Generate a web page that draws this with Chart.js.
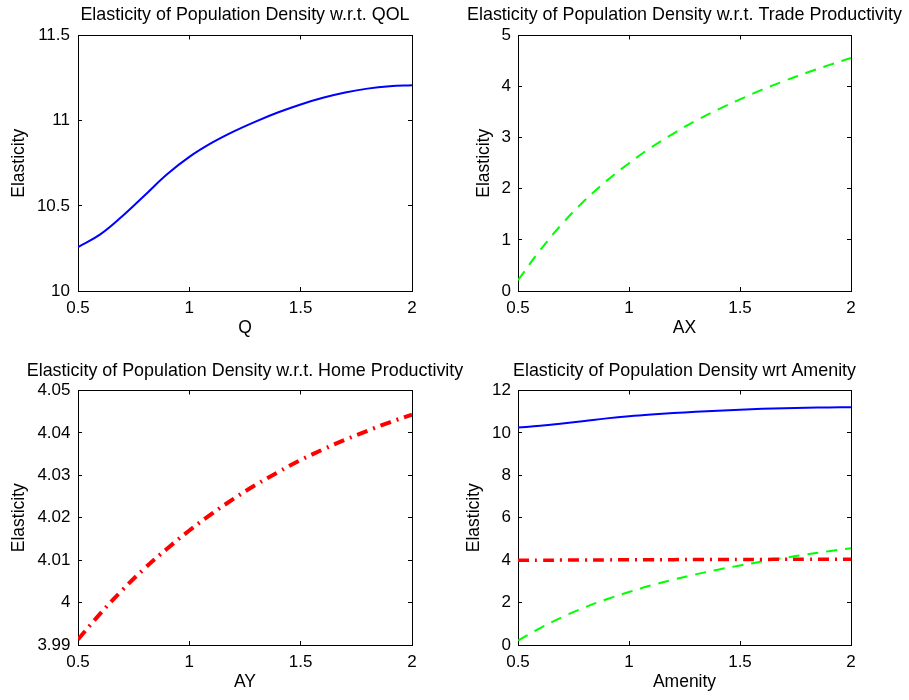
<!DOCTYPE html>
<html>
<head>
<meta charset="utf-8">
<title>Elasticity of Population Density</title>
<script src="https://cdn.jsdelivr.net/npm/chart.js@4.4.0/dist/chart.umd.min.js"></script>
<style>
    body { margin: 0; background: #fff; }
    canvas { position: absolute; }
</style>
</head>
<body>
<canvas id="qol-chart" width="490" height="345" style="left:0;top:0"></canvas>
<canvas id="trade-chart" width="449" height="345" style="left:460px;top:0"></canvas>
<canvas id="home-chart" width="490" height="350" style="left:0;top:350px"></canvas>
<canvas id="amenity-chart" width="449" height="350" style="left:460px;top:350px"></canvas>
<script>
// Values
var xValues = [0.5, 0.6, 0.7, 0.8, 0.9, 1.0, 1.1, 1.2, 1.3, 1.4, 1.5, 1.6, 1.7, 1.8, 1.9, 2.0];
var qolElasticity = [10.258, 10.332, 10.44, 10.562, 10.685, 10.787, 10.869, 10.937, 10.996, 11.049, 11.095, 11.134, 11.165, 11.188, 11.202, 11.208];
var tradeElasticity = [0.21, 0.80, 1.32, 1.77, 2.16, 2.50, 2.81, 3.08, 3.33, 3.55, 3.75, 3.94, 4.11, 4.27, 4.42, 4.56];
var homeElasticity = [3.9913, 3.9974, 4.0030, 4.0081, 4.0127, 4.0170, 4.0209, 4.0245, 4.0278, 4.0308, 4.0336, 4.0361, 4.0384, 4.0405, 4.0425, 4.0443];

// Tick labels
var xTicks = [0.5, 1, 1.5, 2];
var qolTicks = [10, 10.5, 11, 11.5];
var tradeTicks = [0, 1, 2, 3, 4, 5];
var homeTicks = [3.99, 4, 4.01, 4.02, 4.03, 4.04, 4.05];
var amenityTicks = [0, 2, 4, 6, 8, 10, 12];

Chart.defaults.color = '#000';
Chart.defaults.font.family = '"Liberation Sans", Arial, Helvetica, sans-serif';

var tickFont = { size: 17 };
var labelFont = { size: 17.5 };

function toPoints(ys) {
    return xValues.map(function(x, i) { return { x: x, y: ys[i] }; });
}

function setTicks(values) {
    return function(scale) {
        scale.ticks = values.map(function(v) { return { value: v }; });
    };
}

// matlab style: ticks pointing into the box, no grid
var insideGrid = { drawOnChartArea: false, drawTicks: true, tickLength: -4, tickColor: '#000', tickWidth: 1 };
var frame = { display: true, color: '#000', width: 1 };

function qolLine() {
    return { data: toPoints(qolElasticity), borderColor: '#0000ff', borderWidth: 2, order: 2 };
}
function tradeLine() {
    return { data: toPoints(tradeElasticity), borderColor: '#00ff00', borderWidth: 2, borderDash: [11, 8], order: 1 };
}
function homeLine(w) {
    return { data: toPoints(homeElasticity), borderColor: '#ff0000', borderWidth: w, borderDash: [11, 6, 2, 6], order: 0 };
}

function makePanel(id, p) {
    return new Chart(document.getElementById(id), {
        type: 'line',
        data: { datasets: p.datasets },
        options: {
            responsive: false,
            animation: false,
            events: [],
            layout: { padding: 0 },
            elements: {
                point: { radius: 0 },
                line: { tension: 0.4, borderCapStyle: 'butt' }
            },
            plugins: {
                legend: { display: false },
                tooltip: { enabled: false },
                title: {
                    display: true,
                    text: p.title,
                    color: '#000',
                    font: { size: 17.9, weight: 'normal' },
                    padding: p.titlePad
                }
            },
            scales: {
                x: {
                    type: 'linear', position: 'bottom', min: 0.5, max: 2,
                    afterBuildTicks: setTicks(xTicks),
                    afterFit: function(s) { s.height = p.xHeight; },
                    ticks: { font: tickFont, padding: 11, maxRotation: 0, callback: function(v) { return String(v); } },
                    grid: insideGrid,
                    border: frame,
                    title: { display: true, text: p.xLabel, font: labelFont, padding: { top: 0, bottom: p.xTitlePad } }
                },
                x2: {
                    type: 'linear', axis: 'x', position: 'top', min: 0.5, max: 2,
                    afterBuildTicks: setTicks(xTicks),
                    afterFit: function(s) { s.height = 0; },
                    ticks: { display: false },
                    grid: insideGrid,
                    border: frame
                },
                y: {
                    type: 'linear', position: 'left', min: p.yTicks[0], max: p.yTicks[p.yTicks.length - 1],
                    afterBuildTicks: setTicks(p.yTicks),
                    afterFit: function(s) { s.width = p.yWidth; },
                    ticks: { font: tickFont, padding: p.yTickPad, callback: function(v) { return String(v); } },
                    grid: insideGrid,
                    border: frame,
                    title: { display: true, text: 'Elasticity', font: labelFont, padding: { top: p.yTitlePad, bottom: 0 } }
                },
                y2: {
                    type: 'linear', axis: 'y', position: 'right', min: p.yTicks[0], max: p.yTicks[p.yTicks.length - 1],
                    afterBuildTicks: setTicks(p.yTicks),
                    afterFit: function(s) { s.width = p.yWidth; },
                    ticks: { display: false },
                    grid: insideGrid,
                    border: frame
                }
            }
        }
    });
}

var topTitlePad = { top: 4.5, bottom: 9.5 };
var bottomTitlePad = { top: 10.2, bottom: 8.8 };

makePanel('qol-chart', {
    title: 'Elasticity of Population Density w.r.t. QOL',
    xLabel: 'Q', yTicks: qolTicks,
    datasets: [qolLine()],
    titlePad: topTitlePad, xHeight: 54, xTitlePad: 6.5,
    yWidth: 78, yTickPad: 12, yTitlePad: 8.5
});

makePanel('trade-chart', {
    title: 'Elasticity of Population Density w.r.t. Trade Productivity',
    xLabel: 'AX', yTicks: tradeTicks,
    datasets: [tradeLine()],
    titlePad: topTitlePad, xHeight: 54, xTitlePad: 6.5,
    yWidth: 58, yTickPad: 11, yTitlePad: 14
});

makePanel('home-chart', {
    title: 'Elasticity of Population Density w.r.t. Home Productivity',
    xLabel: 'AY', yTicks: homeTicks,
    datasets: [homeLine(4)],
    titlePad: bottomTitlePad, xHeight: 55, xTitlePad: 7,
    yWidth: 78, yTickPad: 11.5, yTitlePad: 8.5
});

makePanel('amenity-chart', {
    title: 'Elasticity of Population Density wrt Amenity',
    xLabel: 'Amenity', yTicks: amenityTicks,
    datasets: [homeLine(3.5), tradeLine(), qolLine()],
    titlePad: bottomTitlePad, xHeight: 55, xTitlePad: 7,
    yWidth: 58, yTickPad: 11, yTitlePad: 3.7
});
</script>
</body>
</html>
